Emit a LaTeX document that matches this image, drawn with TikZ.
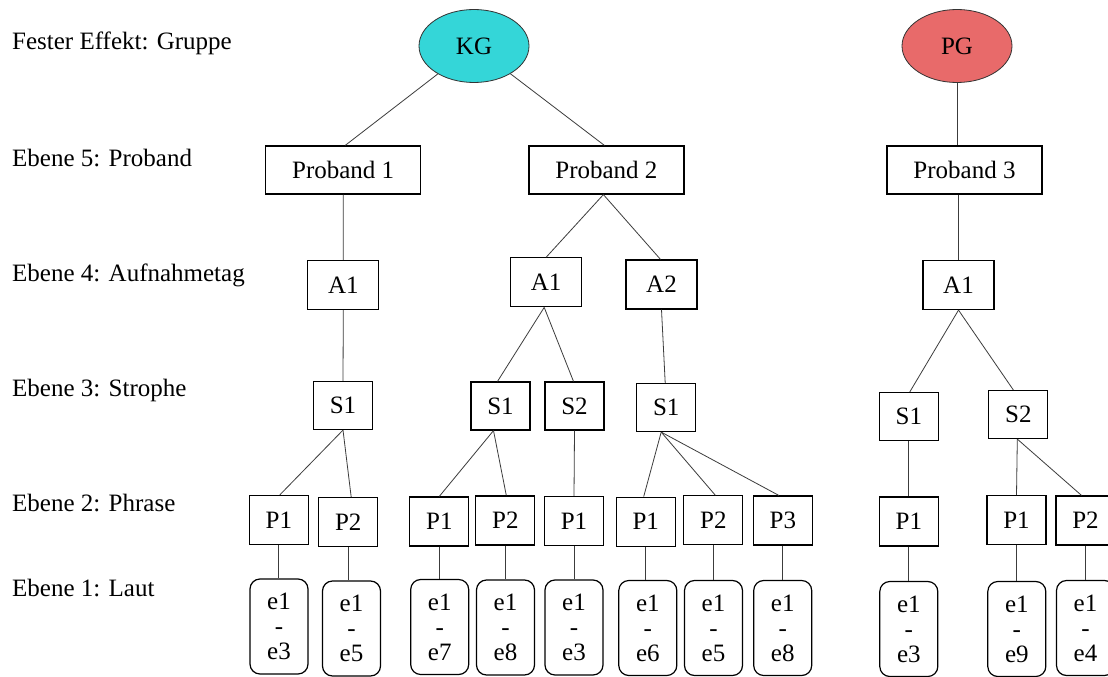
\documentclass[tikz,border=0pt]{standalone}
\usepackage{fontspec}
\setmainfont{Liberation Serif}
\usetikzlibrary{shapes.geometric}
\definecolor{kgcol}{RGB}{52,214,216}
\definecolor{pgcol}{RGB}{232,106,106}
\definecolor{linecol}{RGB}{60,60,60}
\tikzset{
 box/.style={draw=black, line width=1.2pt, rectangle, inner sep=0pt, font=\fontsize{25}{25}\selectfont},
 probandbox/.style={box, minimum width=155pt, minimum height=48pt},
 abox/.style={box, minimum width=71pt, minimum height=49pt},
 sbox/.style={box, minimum width=59pt, minimum height=48pt},
 pbox/.style={box, minimum width=59pt, minimum height=49pt},
 ebox/.style={box, rounded corners=10pt, minimum width=58pt, minimum height=95pt, align=center},
 grp/.style={ellipse, draw=black!80, line width=0.8pt, minimum width=110pt, minimum height=73pt, inner sep=0pt, font=\fontsize{25}{28}\selectfont},
 lvl/.style={anchor=base west, inner sep=0pt, font=\fontsize{25}{28}\selectfont},
 conn/.style={draw=linecol, line width=0.8pt},
}
\begin{document}
\begin{tikzpicture}[x=1pt,y=-1pt]
\clip (0,0) rectangle (1108,677);
\fill[white] (0,0) rectangle (1108,677);

% level labels
\node[lvl] (L0) at (12,49) {Fester Effekt: Gruppe};
\node[lvl] (L5) at (12,166) {Ebene 5: Proband};
\node[lvl] (L4) at (12,281) {Ebene 4: Aufnahmetag};
\node[lvl] (L3) at (12,396) {Ebene 3: Strophe};
\node[lvl] (L2) at (12,511) {Ebene 2: Phrase};
\node[lvl] (L1) at (12,596) {Ebene 1: Laut};

% groups
\node[grp, fill=kgcol] (KG) at (474,46) {KG};
\node[grp, fill=pgcol] (PG) at (957,46) {PG};

% probands
\node[probandbox] (Pr1) at (343.2,170) {Proband 1};
\node[probandbox] (Pr2) at (606.4,170) {Proband 2};
\node[probandbox] (Pr3) at (964.5,170) {Proband 3};

% recording days
\node[abox] (A1a) at (343.3,285) {A1};
\node[abox] (A1b) at (546.2,282.3) {A1};
\node[abox] (A2b) at (661.5,284.5) {A2};
\node[abox] (A1c) at (958.5,285) {A1};

% strophes
\node[sbox] (S1a) at (343,405.5) {S1};
\node[sbox] (S1b) at (500.5,406) {S1};
\node[sbox] (S2b) at (574.5,406) {S2};
\node[sbox] (S1c) at (666.2,407.5) {S1};
\node[sbox] (S1d) at (908.8,416.5) {S1};
\node[sbox] (S2d) at (1018.3,414.5) {S2};

% phrases
\node[pbox] (P1a) at (278.8,520) {P1};
\node[pbox] (P2a) at (348.2,522.2) {P2};
\node[pbox] (P1b) at (439.3,521.5) {P1};
\node[pbox] (P2b) at (505.3,520.5) {P2};
\node[pbox] (P1c) at (574,521) {P1};
\node[pbox] (P1d) at (645.7,521.7) {P1};
\node[pbox] (P2d) at (713.3,520.3) {P2};
\node[pbox] (P3d) at (782.8,520.5) {P3};
\node[pbox] (P1e) at (908.8,521.5) {P1};
\node[pbox] (P1f) at (1016.5,520.2) {P1};
\node[pbox] (P2f) at (1085.5,520.5) {P2};

% sounds
\node[ebox] (Ea) at (279,626.5) {e1\\-\\e3};
\node[ebox] (Eb) at (351.5,628.5) {e1\\-\\e5};
\node[ebox] (Ec) at (439.7,627) {e1\\-\\e7};
\node[ebox] (Ed) at (505.5,627.5) {e1\\-\\e8};
\node[ebox] (Ee) at (574,627.5) {e1\\-\\e3};
\node[ebox] (Ef) at (647.8,628) {e1\\-\\e6};
\node[ebox] (Eg) at (713.5,628) {e1\\-\\e5};
\node[ebox] (Eh) at (782.7,628) {e1\\-\\e8};
\node[ebox] (Ei) at (908.8,629) {e1\\-\\e3};
\node[ebox] (Ej) at (1016.8,629) {e1\\-\\e9};
\node[ebox] (Ek) at (1085.5,628) {e1\\-\\e4};

% connectors
\draw[conn] (KG) -- ([xshift=2pt]Pr1.north);
\draw[conn] (KG) -- ([xshift=-2pt]Pr2.north);
\draw[conn] (PG.south) -- (PG.south |- Pr3.north);

\draw[conn] (Pr1.south) -- (A1a.north);
\draw[conn] ([xshift=-3pt]Pr2.south) -- (A1b.north);
\draw[conn] ([xshift=-3pt]Pr2.south) -- ([xshift=-1pt]A2b.north);
\draw[conn] (Pr3.south -| A1c.north) -- (A1c.north);

\draw[conn] (A1a.south) -- (S1a.north);
\draw[conn] ([xshift=-2pt]A1b.south) -- ([xshift=-3pt]S1b.north);
\draw[conn] ([xshift=-2pt]A1b.south) -- ([xshift=-1pt]S2b.north);
\draw[conn] (A2b.south) -- ([xshift=-1pt]S1c.north);
\draw[conn] (A1c.south) -- ([xshift=1pt]S1d.north);
\draw[conn] (A1c.south) -- ([xshift=-5pt]S2d.north);

\draw[conn] (S1a.south) -- ([xshift=1pt]P1a.north);
\draw[conn] (S1a.south) -- ([xshift=3pt]P2a.north);
\draw[conn] ([xshift=-7pt]S1b.south) -- (P1b.north);
\draw[conn] ([xshift=-7pt]S1b.south) -- ([xshift=1pt]P2b.north);
\draw[conn] (S2b.south) -- (P1c.north);
\draw[conn] ([xshift=-5pt]S1c.south) -- ([xshift=-2pt]P1d.north);
\draw[conn] ([xshift=-5pt]S1c.south) -- ([xshift=2pt]P2d.north);
\draw[conn] ([xshift=-5pt]S1c.south) -- ([xshift=-4pt]P3d.north);
\draw[conn] (S1d.south) -- (P1e.north);
\draw[conn] ([xshift=-1pt]S2d.south) -- (P1f.north);
\draw[conn] ([xshift=-1pt]S2d.south) -- ([xshift=-4pt]P2f.north);

\draw[conn] (P1a.south) -- (P1a.south |- Ea.north);
\draw[conn] (P2a.south) -- (P2a.south |- Eb.north);
\draw[conn] (P1b.south) -- (P1b.south |- Ec.north);
\draw[conn] (P2b.south) -- (P2b.south |- Ed.north);
\draw[conn] (P1c.south) -- (P1c.south |- Ee.north);
\draw[conn] (P1d.south) -- (P1d.south |- Ef.north);
\draw[conn] (P2d.south) -- (P2d.south |- Eg.north);
\draw[conn] (P3d.south) -- (P3d.south |- Eh.north);
\draw[conn] (P1e.south) -- (P1e.south |- Ei.north);
\draw[conn] (P1f.south) -- (P1f.south |- Ej.north);
\draw[conn] (P2f.south) -- (P2f.south |- Ek.north);
\end{tikzpicture}
\end{document}
